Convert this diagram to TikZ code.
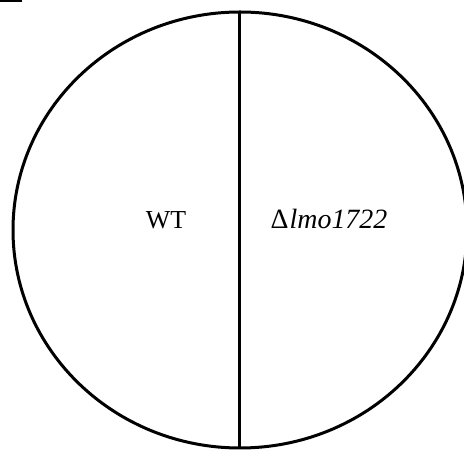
\documentclass[tikz,border=0pt]{standalone}
\usepackage{fontspec}
\setmainfont{Liberation Serif}
\begin{document}
\begin{tikzpicture}[x=1bp,y=1bp,
  outline/.style={line width=3bp, draw=black},
  label/.style={font=\fontsize{26}{30}\selectfont, inner sep=0pt, anchor=base}]
\useasboundingbox (0,0) rectangle (464,452);
% dish outline and dividing line
\draw[outline] (240,222) ellipse [x radius=227, y radius=218];
\coordinate (top) at (239,440);
\coordinate (bottom) at (239,4);
\draw[outline] (top) -- (bottom);
% small mark at the top-left corner
\fill (0,449.5) rectangle (22,452);
% strain labels
\node[label] (wt) at (166,223) {WT};
\node[label, font=\fontsize{28}{32}\selectfont] (mut) at (329,223) {Δ\kern1bp\textit{lmo1722}};
\end{tikzpicture}
\end{document}
